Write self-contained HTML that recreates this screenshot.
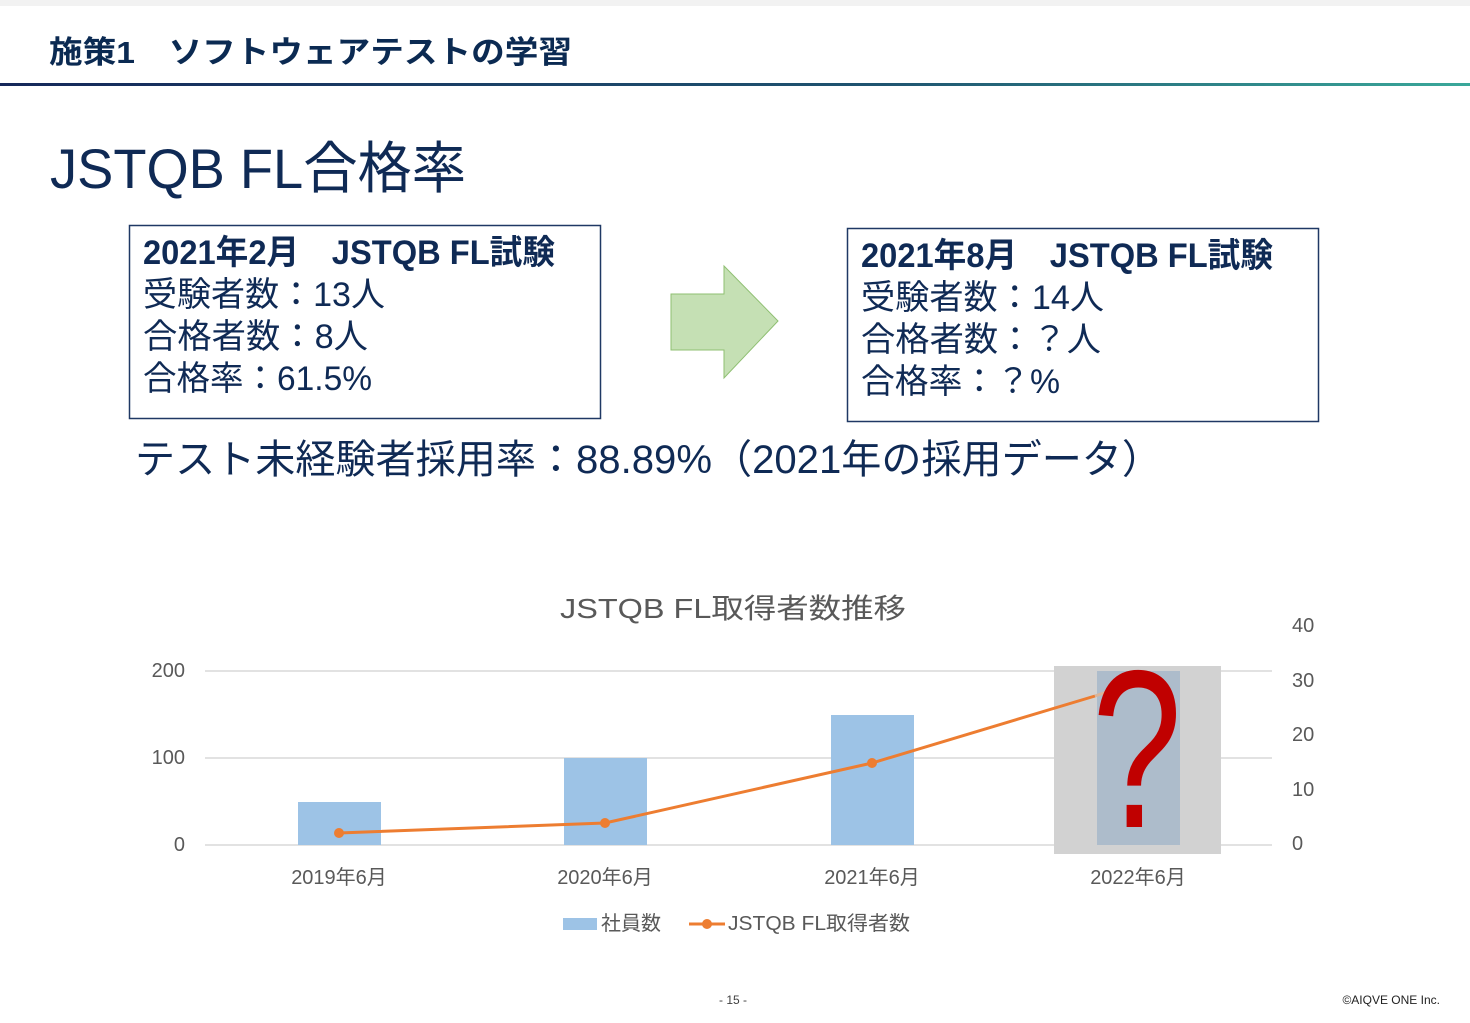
<!DOCTYPE html>
<html><head><meta charset="utf-8"><style>
body{margin:0;background:#fff;}
svg{display:block;}
text{font-family:"Liberation Sans","Noto Sans CJK JP",sans-serif;}
</style></head><body>
<svg width="1470" height="1023" viewBox="0 0 1470 1023" xmlns="http://www.w3.org/2000/svg">
<defs>
<linearGradient id="hl" x1="0" x2="1"><stop offset="0" stop-color="#15285a"/><stop offset="0.6" stop-color="#1f5470"/><stop offset="1" stop-color="#3aa89a"/></linearGradient>
</defs>
<rect x="0" y="0" width="1470" height="6" fill="#f2f2f2"/>
<text x="49" y="63" font-size="31" font-weight="bold" fill="#0b2a52" textLength="523" lengthAdjust="spacingAndGlyphs">施策1　ソフトウェアテストの学習</text>
<rect x="0" y="83" width="1470" height="3" fill="url(#hl)"/>
<text x="50" y="188" font-size="56" fill="#0f2a55" textLength="416" lengthAdjust="spacingAndGlyphs">JSTQB FL合格率</text>

<rect x="129.5" y="225.5" width="471" height="193" fill="none" stroke="#1f3864" stroke-width="1.5"/>
<g fill="#0f2a55" font-size="34">
<text x="143" y="264" font-weight="bold" textLength="412" lengthAdjust="spacingAndGlyphs">2021年2月　JSTQB FL試験</text>
<text x="143" y="306" textLength="242" lengthAdjust="spacingAndGlyphs">受験者数：13人</text>
<text x="143" y="348" textLength="225" lengthAdjust="spacingAndGlyphs">合格者数：8人</text>
<text x="143" y="390" textLength="229" lengthAdjust="spacingAndGlyphs">合格率：61.5%</text>
</g>
<polygon points="671,294 724,294 724,266 778,321 724,378 724,350 671,350" fill="#c5e0b4" stroke="#8fbf72" stroke-width="1"/>
<rect x="847.5" y="228.5" width="471" height="193" fill="none" stroke="#1f3864" stroke-width="1.5"/>
<g fill="#0f2a55" font-size="34">
<text x="861" y="267" font-weight="bold" textLength="412" lengthAdjust="spacingAndGlyphs">2021年8月　JSTQB FL試験</text>
<text x="861" y="309" textLength="243" lengthAdjust="spacingAndGlyphs">受験者数：14人</text>
<text x="861" y="351" textLength="240" lengthAdjust="spacingAndGlyphs">合格者数：？人</text>
<text x="861" y="393" textLength="199" lengthAdjust="spacingAndGlyphs">合格率：？%</text>
</g>
<text x="135" y="473" font-size="40" fill="#0f2a55" textLength="1027" lengthAdjust="spacingAndGlyphs">テスト未経験者採用率：88.89%（2021年の採用データ）</text>

<text x="733" y="618" font-size="28" fill="#595959" text-anchor="middle" textLength="346" lengthAdjust="spacingAndGlyphs">JSTQB FL取得者数推移</text>
<g stroke="#d9d9d9" stroke-width="1.5">
<line x1="205" y1="671" x2="1272" y2="671"/>
<line x1="205" y1="758" x2="1272" y2="758"/>
<line x1="205" y1="845" x2="1272" y2="845"/>
</g>
<g fill="#595959" font-size="20">
<text x="185" y="677" text-anchor="end">200</text>
<text x="185" y="764" text-anchor="end">100</text>
<text x="185" y="851" text-anchor="end">0</text>
<text x="1292" y="632">40</text>
<text x="1292" y="687">30</text>
<text x="1292" y="741">20</text>
<text x="1292" y="796">10</text>
<text x="1292" y="850">0</text>
<text x="339" y="884" text-anchor="middle">2019年6月</text>
<text x="605" y="884" text-anchor="middle">2020年6月</text>
<text x="872" y="884" text-anchor="middle">2021年6月</text>
<text x="1138" y="884" text-anchor="middle">2022年6月</text>
</g>
<g fill="#9dc3e6">
<rect x="298" y="802" width="83" height="43"/>
<rect x="564" y="758" width="83" height="87"/>
<rect x="831" y="715" width="83" height="130"/>
</g>
<rect x="1054" y="666" width="167" height="188" fill="#d2d2d2"/>
<rect x="1097" y="671" width="83" height="174" fill="#adbccb"/>
<polyline points="339,833 605,823 872,763 1095,696" fill="none" stroke="#ed7d31" stroke-width="3"/>
<g fill="#ed7d31"><circle cx="339" cy="833" r="5"/><circle cx="605" cy="823" r="5"/><circle cx="872" cy="763" r="5"/></g>
<line x1="1095" y1="696" x2="1142" y2="680" stroke="#d9b49a" stroke-width="3"/>
<text x="1092" y="827" font-size="225" fill="#c00000" textLength="90" lengthAdjust="spacingAndGlyphs" font-family="DejaVu Sans, sans-serif">?</text>
<rect x="563" y="918" width="34" height="12" fill="#9dc3e6"/>
<text x="601" y="930" font-size="20" fill="#595959">社員数</text>
<line x1="689" y1="924" x2="725" y2="924" stroke="#ed7d31" stroke-width="3"/>
<circle cx="707" cy="924" r="5" fill="#ed7d31"/>
<text x="728" y="930" font-size="20" fill="#595959" textLength="182" lengthAdjust="spacingAndGlyphs">JSTQB FL取得者数</text>
<text x="733" y="1004" font-size="12" fill="#404040" text-anchor="middle">-  15  -</text>
<text x="1440" y="1004" font-size="12" fill="#222" text-anchor="end">©AIQVE ONE Inc.</text>
</svg>
</body></html>
